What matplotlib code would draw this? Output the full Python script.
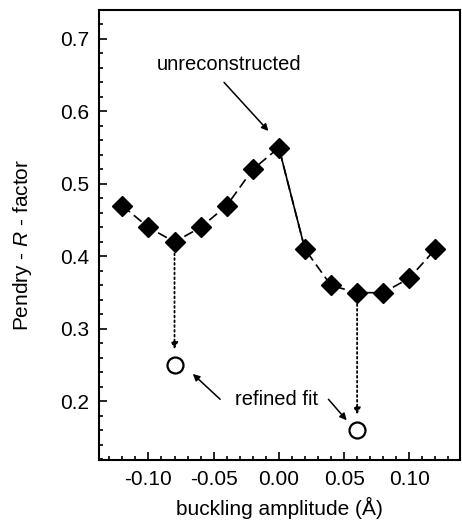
import matplotlib
matplotlib.use("Agg")
import matplotlib.pyplot as plt
from matplotlib.ticker import MultipleLocator

plt.rcParams['font.family'] = ['Liberation Sans', 'DejaVu Sans']
plt.rcParams['mathtext.fontset'] = 'custom'
plt.rcParams['mathtext.it'] = 'Liberation Sans:italic'
plt.rcParams['mathtext.rm'] = 'Liberation Sans'

buckling = [-0.12, -0.10, -0.08, -0.06, -0.04, -0.02, 0.00, 0.02, 0.04, 0.06, 0.08, 0.10, 0.12]
r_factor = [0.47, 0.44, 0.42, 0.44, 0.47, 0.52, 0.55, 0.41, 0.36, 0.35, 0.35, 0.37, 0.41]
refined_x = [-0.08, 0.06]
refined_r = [0.25, 0.16]

fig = plt.figure(figsize=(4.62, 5.2), dpi=100)
ax = fig.add_axes([0.214, 0.115, 0.782, 0.866])

ax.plot(buckling, r_factor, color='black', lw=1.2, linestyle=(0, (6, 3)), zorder=2)
ax.plot(buckling[6:8], r_factor[6:8], color='black', lw=1.2, linestyle='-', zorder=2)
ax.plot(buckling, r_factor, linestyle='none', marker='D', ms=10, color='black', zorder=3)
ax.plot(refined_x, refined_r, linestyle='none', marker='o', ms=11.5, mfc='white',
        mec='black', mew=1.6, zorder=3)

# dotted arrows from minima to refined fits
for xi, ri in zip(refined_x, refined_r):
    yi = r_factor[buckling.index(xi)]
    ax.annotate('', xy=(xi, ri + 0.018), xytext=(xi, yi - 0.012),
                arrowprops=dict(arrowstyle='-|>', linestyle=':', lw=1.3, color='black',
                                mutation_scale=10))

ax.text(-0.038, 0.664, 'unreconstructed', ha='center', va='center', fontsize=14.5)
ax.annotate('', xy=(-0.008, 0.573), xytext=(-0.042, 0.640),
            arrowprops=dict(arrowstyle='-|>', lw=1.1, color='black', mutation_scale=10,
                            shrinkA=0, shrinkB=0))
ax.text(-0.002, 0.203, 'refined fit', ha='center', va='center', fontsize=14.5)
ax.annotate('', xy=(-0.066, 0.238), xytext=(-0.045, 0.203),
            arrowprops=dict(arrowstyle='-|>', lw=1.1, color='black', mutation_scale=10,
                            shrinkA=0, shrinkB=0))
ax.annotate('', xy=(0.052, 0.174), xytext=(0.038, 0.203),
            arrowprops=dict(arrowstyle='-|>', lw=1.1, color='black', mutation_scale=10,
                            shrinkA=0, shrinkB=0))

ax.set_xlim(-0.138, 0.139)
ax.set_ylim(0.119, 0.74)
ax.xaxis.set_major_locator(MultipleLocator(0.05))
ax.xaxis.set_minor_locator(MultipleLocator(0.01))
ax.yaxis.set_major_locator(MultipleLocator(0.1))
ax.yaxis.set_minor_locator(MultipleLocator(0.02))
ax.xaxis.set_major_formatter(matplotlib.ticker.FormatStrFormatter('%.2f'))
ax.yaxis.set_major_formatter(matplotlib.ticker.FormatStrFormatter('%.1f'))
ax.tick_params(which='both', direction='in', top=False, right=False, labelsize=15, width=1.2)
ax.tick_params(which='major', length=6, pad=7)
ax.tick_params(which='minor', length=3)
for s in ax.spines.values():
    s.set_linewidth(1.5)

ax.set_xlabel('buckling amplitude (Å)', fontsize=15, labelpad=6)
ax.set_ylabel('Pendry - $\\mathit{R}$ - factor', fontsize=15)
ax.yaxis.set_label_coords(-0.18, 0.478)

fig.savefig('out.png', dpi=100)
